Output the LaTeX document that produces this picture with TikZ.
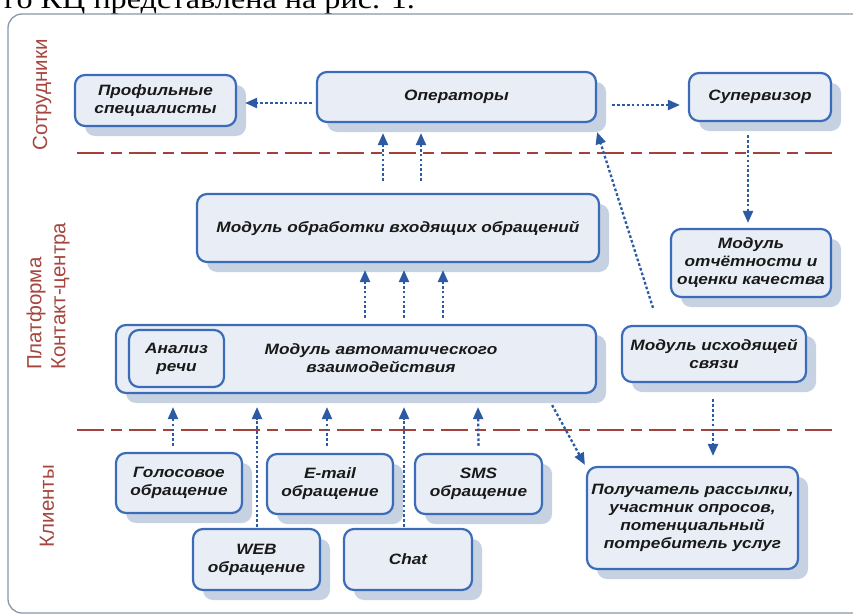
\documentclass[tikz,border=0pt]{standalone}
\usepackage{fontspec}
\setmainfont{Liberation Sans}
\newfontfamily\boxfont[FakeStretch=1.15]{Liberation Sans}
\newfontfamily\topfont[FakeStretch=1.15]{Liberation Serif}
\usetikzlibrary{arrows.meta,shadows,calc}
\definecolor{boxcol}{HTML}{3B6CB7}
\definecolor{boxfill}{HTML}{E9EEF6}
\definecolor{shadowcol}{HTML}{C6D1E2}
\definecolor{arrowcol}{HTML}{2C5BA3}
\definecolor{framecol}{HTML}{8796A8}
\definecolor{redline}{HTML}{A3413B}
\definecolor{labelcol}{HTML}{A5463F}
\tikzset{
  box/.style={draw=boxcol, line width=2.2pt, fill=boxfill, rounded corners=10pt,
    font=\boxfont\bfseries\itshape\fontsize{15}{18}\selectfont, text=black!90,
    align=center, inner sep=2pt,
    drop shadow={shadow xshift=10pt, shadow yshift=-10pt, fill=shadowcol, opacity=1}},
  innerbox/.style={draw=boxcol, line width=2.2pt, fill=boxfill, rounded corners=10pt,
    font=\boxfont\bfseries\itshape\fontsize{15}{18}\selectfont, text=black!90,
    align=center, inner sep=2pt},
  boxtext/.style={font=\boxfont\bfseries\itshape\fontsize{15}{18}\selectfont, text=black!90, align=center, inner sep=0pt},
  arr/.style={draw=arrowcol, line width=2.3pt, dash pattern=on 2.7pt off 2.2pt,
    -{Triangle[length=12pt,width=10pt]}},
  reddash/.style={draw=redline, line width=1.4pt, dash pattern=on 27pt off 7pt on 11pt off 7pt},
  sidelabel/.style={text=labelcol, font=\fontsize{20.5}{24}\selectfont, rotate=90, inner sep=0pt, align=left}
}
\begin{document}
\begin{tikzpicture}[x=1pt,y=-1pt]
\useasboundingbox (0,0) rectangle (853,615);
\begin{scope}
\clip (0,0) rectangle (853,615);
\node[anchor=base west, inner sep=0pt, font=\topfont\fontsize{28}{30}\selectfont] (toptxt) at (4,9) {го КЦ представлена на рис. 1.};
\draw[framecol, line width=1.3pt, rounded corners=14pt] (8,14) rectangle (890,613);
\end{scope}

% side labels
\node[sidelabel] (lstaff) at (42,95) {Сотрудники};
\node[sidelabel, anchor=west] (lplat) at (48,370) {Платформа\\Контакт-центра};
\node[sidelabel] (lcli) at (47,506) {Клиенты};

% dashed separators
\draw[reddash] (77,153) -- (837,153);
\draw[reddash] (77,430) -- (837,430);

% boxes
\node[box, minimum width=161pt, minimum height=51pt] (prof) at (155.5,100.5) {Профильные\\специалисты};
\node[box, minimum width=279pt, minimum height=50pt] (ops) at (456.5,97) {Операторы};
\node[box, minimum width=142pt, minimum height=48pt] (sup) at (760,97) {Супервизор};
\node[box, minimum width=402pt, minimum height=68pt] (inb) at (398,228) {Модуль обработки входящих обращений};
\node[box, minimum width=160pt, minimum height=68pt] (rep) at (751,263) {Модуль\\отчётности и\\оценки качества};
\node[box, minimum width=480pt, minimum height=68pt] (auto) at (356,359) {};
\node[boxtext] (autotxt) at (381,358) {Модуль автоматического\\взаимодействия};
\node[innerbox, minimum width=95pt, minimum height=57pt] (asr) at (176.5,358.5) {Анализ\\речи};
\node[box, minimum width=184pt, minimum height=56pt] (out) at (714,354) {Модуль исходящей\\связи};
\node[box, minimum width=126pt, minimum height=60pt] (voice) at (179,483) {Голосовое\\обращение};
\node[box, minimum width=126pt, minimum height=60pt] (email) at (330,484) {E-mail\\обращение};
\node[box, minimum width=127pt, minimum height=60pt] (sms) at (478.5,484) {SMS\\обращение};
\node[box, minimum width=127pt, minimum height=61pt] (web) at (256.5,559.5) {WEB\\обращение};
\node[box, minimum width=128pt, minimum height=61pt] (chat) at (408,559.5) {Chat};
\node[box, minimum width=211pt, minimum height=102pt] (recv) at (692.5,518) {Получатель рассылки,\\участник опросов,\\потенциальный\\потребитель услуг};

% connectors
\draw[arr] ([xshift=-4pt,yshift=-6pt]ops.west) -- ([xshift=8pt,yshift=-2.5pt]prof.east);
\draw[arr] ([xshift=15pt,yshift=-8pt]ops.east) -- ([xshift=-8pt,yshift=-8pt]sup.west);
\draw[arr] ([xshift=-15pt,yshift=12pt]inb.north) -- ([xshift=-73.5pt,yshift=-10pt]ops.south);
\draw[arr] ([xshift=23pt,yshift=12pt]inb.north) -- ([xshift=-35.5pt,yshift=-10pt]ops.south);
\draw[arr] ([xshift=9pt,yshift=6pt]auto.north) -- ([xshift=-33pt,yshift=-7pt]inb.south);
\draw[arr] ([xshift=48pt,yshift=6pt]auto.north) -- ([xshift=6pt,yshift=-7pt]inb.south);
\draw[arr] ([xshift=87pt,yshift=6pt]auto.north) -- ([xshift=45pt,yshift=-7pt]inb.south);
\draw[arr] ([xshift=-61pt,yshift=17pt]out.north) -- ([yshift=-9pt]ops.south east);
\draw[arr] ([xshift=-12pt,yshift=-13pt]sup.south) -- ([xshift=-3pt,yshift=5pt]rep.north);
\draw[arr] ([xshift=-6pt,yshift=6pt]voice.north) -- ([xshift=-183pt,yshift=-13pt]auto.south);
\draw[arr] ([xshift=0.5pt,yshift=1pt]web.north) -- ([xshift=-99pt,yshift=-13pt]auto.south);
\draw[arr] ([xshift=-3pt,yshift=7pt]email.north) -- ([xshift=-29pt,yshift=-13pt]auto.south);
\draw[arr] ([xshift=-4pt,yshift=1pt]chat.north) -- ([xshift=48pt,yshift=-13pt]auto.south);
\draw[arr] ([yshift=7pt]sms.north) -- ([xshift=122pt,yshift=-13pt]auto.south);
\draw[arr] ([xshift=-45pt,yshift=-11pt]auto.south east) -- ([xshift=-1pt,yshift=1pt]recv.north west);
\draw[arr] ([xshift=-1pt,yshift=-16pt]out.south) -- ([xshift=20.5pt,yshift=10pt]recv.north);
\end{tikzpicture}
\end{document}
